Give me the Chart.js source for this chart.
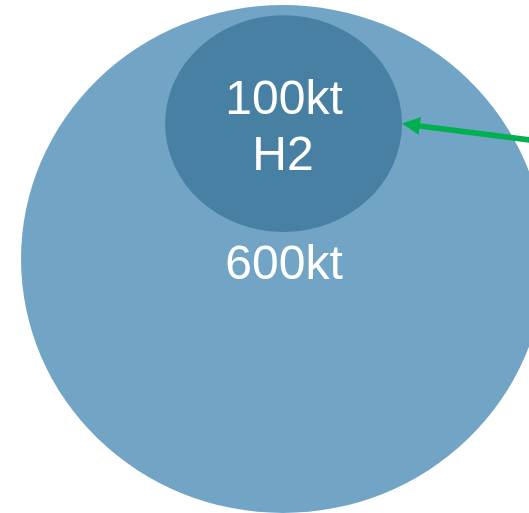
<!DOCTYPE html>
<html>
<head>
<meta charset="utf-8">
<script src="https://cdn.jsdelivr.net/npm/chart.js@4/dist/chart.umd.min.js"></script>
<style>
  html, body { margin: 0; padding: 0; background: #fff; }
  #wrap { width: 529px; height: 513px; }
</style>
</head>
<body>
<div id="wrap"><canvas id="graph" width="529" height="513"></canvas></div>
<script>
// circles, units: big circle = radius 1 round (0,0)
let nombres = ['600kt', '100kt H2'];
let cantidad = [600, 100];
let centroX = [0, 0.002];
let centroY = [0, 0.533];
let radioX = [1, 0.452];
let radioY = [1, 0.427];
let colores = ['#72a5c5', '#4880a4'];

// text lines in the circles
let textos = ['600kt', '100kt', 'H2'];
let textoX = [0.004, 0.004, 0.0];
let textoY = [-0.079, 0.571, 0.35];

// green arrow pointing at the small circle
let flechaX = [1.06, 0.454];
let flechaY = [0.453, 0.533];

var ctx = document.getElementById('graph');

const circulos = {
    id: 'circulos',
    afterDatasetsDraw(chart) {
        const c = chart.ctx;
        const sx = chart.scales.x;
        const sy = chart.scales.y;
        c.save();
        for (let i = 0; i < centroX.length; i++) {
            let px = sx.getPixelForValue(centroX[i]);
            let py = sy.getPixelForValue(centroY[i]);
            let rx = Math.abs(sx.getPixelForValue(centroX[i] + radioX[i]) - px);
            let ry = Math.abs(sy.getPixelForValue(centroY[i] + radioY[i]) - py);
            c.beginPath();
            c.ellipse(px, py, rx, ry, 0, 0, Math.PI * 2);
            c.fillStyle = colores[i];
            c.fill();
        }

        // arrow
        let x0 = sx.getPixelForValue(flechaX[0]);
        let y0 = sy.getPixelForValue(flechaY[0]);
        let x1 = sx.getPixelForValue(flechaX[1]);
        let y1 = sy.getPixelForValue(flechaY[1]);
        let ang = Math.atan2(y1 - y0, x1 - x0);
        let largo = 18;
        let ancho = 9;
        let bx = x1 - largo * Math.cos(ang);
        let by = y1 - largo * Math.sin(ang);
        c.strokeStyle = '#00b050';
        c.fillStyle = '#00b050';
        c.lineWidth = 5.5;
        c.beginPath();
        c.moveTo(x0, y0);
        c.lineTo(bx + 4 * Math.cos(ang), by + 4 * Math.sin(ang));
        c.stroke();
        c.beginPath();
        c.moveTo(x1, y1);
        c.lineTo(bx + ancho * Math.sin(ang), by - ancho * Math.cos(ang));
        c.lineTo(bx - ancho * Math.sin(ang), by + ancho * Math.cos(ang));
        c.closePath();
        c.fill();

        // labels
        c.fillStyle = '#ffffff';
        c.font = '48px "Liberation Sans", Arial, sans-serif';
        c.textAlign = 'center';
        c.textBaseline = 'alphabetic';
        for (let i = 0; i < textos.length; i++) {
            c.fillText(textos[i], sx.getPixelForValue(textoX[i]), sy.getPixelForValue(textoY[i]));
        }
        c.restore();
    }
};

const config = {
    type: 'scatter',
    data: {
        labels: nombres,
        datasets: [{
            label: 'kt',
            data: centroX.map((x, i) => ({ x: x, y: centroY[i], v: cantidad[i] })),
            pointRadius: 0,
            pointHoverRadius: 0
        }]
    },
    options: {
        responsive: false,
        animation: false,
        events: [],
        layout: { padding: 0 },
        plugins: {
            legend: { display: false },
            tooltip: { enabled: false }
        },
        scales: {
            x: { type: 'linear', display: false, min: -1.0802, max: 0.9389 },
            y: { type: 'linear', display: false, min: -1.0, max: 1.0197 }
        }
    },
    plugins: [circulos]
};

var myChart = new Chart(ctx, config);
</script>
</body>
</html>
